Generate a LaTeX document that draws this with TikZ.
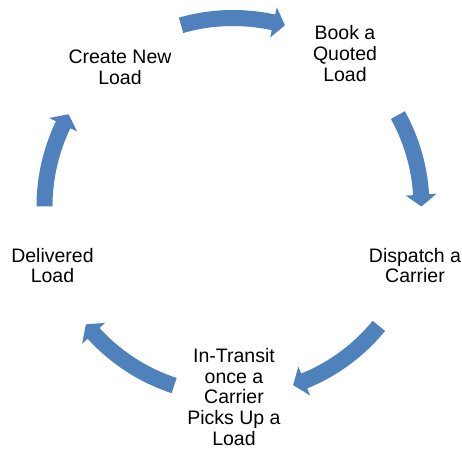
\documentclass[tikz,border=0pt]{standalone}
\usepackage{fontspec}
\setmainfont{Liberation Sans}
\definecolor{cycleblue}{RGB}{79,129,189}
\tikzset{
  stage/.style = {align=center, inner sep=0pt, outer sep=0pt,
                  font=\fontsize{19.5}{20.75}\selectfont},
  cyclearrow/.style = {fill=cycleblue}
}

\begin{document}
\begin{tikzpicture}[x=1pt,y=1pt]
	\def \rad{188.5}    % radius of the cycle
	\def \shaft{8}      % half width of the shaft
	\def \barb{15.5}    % half width of the head
	\def \headlen{3.6}  % length of the head (degrees)
	
	% curved arrow from angle #1 (tail) to angle #2 (tip), clockwise
	\def \cyclearc#1#2{
		\fill[cyclearrow] (#1:\rad+\shaft)
			arc[start angle=#1, end angle=#2+\headlen, radius=\rad+\shaft]
			-- (#2+\headlen:\rad+\barb) -- (#2:\rad) -- (#2+\headlen:\rad-\barb)
			-- (#2+\headlen:\rad-\shaft)
			arc[start angle=#2+\headlen, end angle=#1, radius=\rad-\shaft] -- cycle;
	}
	
	\useasboundingbox (-233,-242.5) rectangle (229,206.5);
	
	% Arrows
	\cyclearc{106}{74}        % top
	\cyclearc{29}{0}          % right
	\cyclearc{-39.3}{-71.4}   % bottom right
	\cyclearc{-108.2}{-141.3} % bottom left
	\cyclearc{180}{150.7}     % left
	
	% Stages
	\node[stage] (create)    at (-113,139)   {Create New\\Load};
	\node[stage] (book)      at (112,153)    {Book a\\Quoted\\Load};
	\node[stage] (dispatch)  at (182,-59)    {Dispatch a\\Carrier};
	\node[stage] (transit)   at (1,-190.5)   {In-Transit\\once a\\Carrier\\Picks Up a\\Load};
	\node[stage] (delivered) at (-180.5,-59) {Delivered\\Load};
	
\end{tikzpicture}
\end{document}
